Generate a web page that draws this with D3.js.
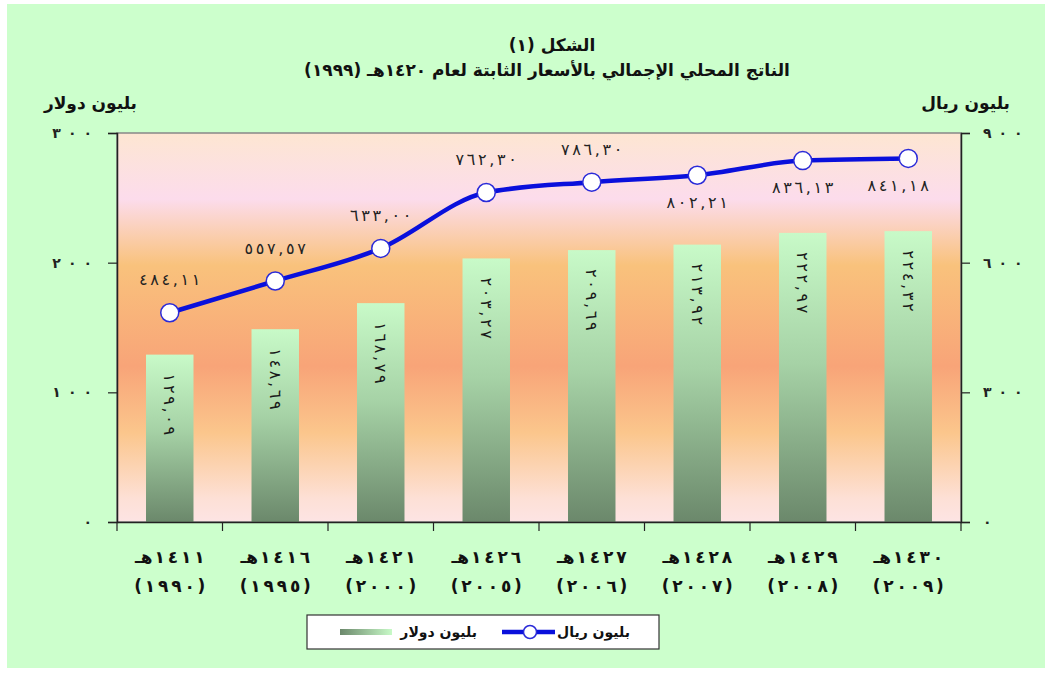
<!DOCTYPE html>
<html>
<head>
<meta charset="utf-8">
<script src="https://cdn.jsdelivr.net/npm/d3@7"></script>
<style>
  body { margin: 0; background: #fff; }
  svg { display: block; font-family: "DejaVu Sans", sans-serif; }
</style>
</head>
<body>
<svg class="chart" width="1052" height="675"></svg>
<script>
// data
const hijri = ["1411", "1416", "1421", "1426", "1427", "1428", "1429", "1430"];
const gregorian = ["1990", "1995", "2000", "2005", "2006", "2007", "2008", "2009"];
const usdBillions = [129.09, 148.69, 168.79, 203.27, 209.69, 213.92, 222.97, 224.32];
const sarBillions = [484.11, 557.57, 633.0, 762.3, 786.3, 802.21, 836.13, 841.18];
const leftTicks = [0, 100, 200, 300];
const rightTicks = [0, 300, 600, 900];
const labelSide = ["up", "up", "up", "up", "up", "down", "down", "down"];

const svg = d3.select(".chart");

// arabic-indic digits, spread out and kept left-to-right
const ar = (s) => String(s).replace(/[0-9]/g, (d) => "٠١٢٣٤٥٦٧٨٩"[+d]);
const spread = (s, sp) => "\u202D" + Array.from(s).join(sp) + "\u202C";
const fmt = (v) => spread(ar(d3.format(".2f")(v).replace(".", ",")), "\u2006");

const plotL = 117, plotR = 961, plotT = 133, plotB = 522;

const defs = svg.append("defs");

// plot background gradient
const bg = defs.append("linearGradient").attr("id", "plotBg")
  .attr("x1", 0).attr("y1", 0).attr("x2", 0).attr("y2", 1);
[[0, "#fde6d2"], [0.17, "#fcdcec"], [0.34, "#f9c27c"], [0.6, "#f8a478"],
 [0.77, "#fbc68c"], [0.94, "#fde0d6"], [1, "#fde4e4"]].forEach(([o, c]) =>
  bg.append("stop").attr("offset", o).attr("stop-color", c));

// bar gradient
const bg2 = defs.append("linearGradient").attr("id", "barFill")
  .attr("x1", 0).attr("y1", 0).attr("x2", 0).attr("y2", 1);
[[0, "#c8fac8"], [0.45, "#a6d2a6"], [1, "#6b886b"]].forEach(([o, c]) =>
  bg2.append("stop").attr("offset", o).attr("stop-color", c));

const bg3 = defs.append("linearGradient").attr("id", "legBar")
  .attr("x1", 0).attr("y1", 0).attr("x2", 1).attr("y2", 0);
[[0, "#6b886b"], [1, "#c8fac8"]].forEach(([o, c]) =>
  bg3.append("stop").attr("offset", o).attr("stop-color", c));

// green page
svg.append("rect").attr("x", 7).attr("y", 4).attr("width", 1038).attr("height", 664)
  .attr("fill", "#ccffcc");

const x = d3.scaleBand().domain(hijri).range([plotL, plotR])
  .paddingInner(0.55).paddingOuter(0.275);
const yL = d3.scaleLinear().domain([0, 300]).range([plotB, plotT]);
const yR = d3.scaleLinear().domain([0, 900]).range([plotB, plotT]);

svg.append("rect").attr("x", plotL).attr("y", plotT)
  .attr("width", plotR - plotL).attr("height", plotB - plotT)
  .attr("fill", "url(#plotBg)").attr("stroke", "#888").attr("stroke-width", 1.5);

// bars
svg.append("g").selectAll("rect").data(usdBillions).join("rect")
  .attr("x", (d, i) => x(hijri[i]))
  .attr("y", (d) => yL(d))
  .attr("width", x.bandwidth())
  .attr("height", (d) => plotB - yL(d))
  .attr("fill", "url(#barFill)");

svg.append("g").selectAll("text").data(usdBillions).join("text")
  .attr("transform", (d, i) =>
    `translate(${x(hijri[i]) + x.bandwidth() / 2},${yL(d) + 19}) rotate(90)`)
  .attr("dy", "0.35em")
  .attr("font-size", 16)
  .attr("fill", "#1a1a1a")
  .text((d) => fmt(d));

// axes
const axL = svg.append("g").attr("transform", `translate(${plotL},0)`)
  .call(d3.axisLeft(yL).tickValues(leftTicks).tickSize(9).tickPadding(16)
    .tickFormat((d) => spread(ar(d), "\u2002")));
const axR = svg.append("g").attr("transform", `translate(${plotR},0)`)
  .call(d3.axisRight(yR).tickValues(rightTicks).tickSize(9).tickPadding(13)
    .tickFormat((d) => spread(ar(d), "\u2002")));
[axL, axR].forEach((g) => {
  g.select(".domain").attr("stroke", "#222").attr("stroke-width", 1.5);
  g.selectAll(".tick line").attr("stroke", "#222").attr("stroke-width", 1.2);
  g.selectAll(".tick text").attr("font-size", 14).attr("font-weight", "bold")
    .attr("fill", "#222").style("font-family", "DejaVu Sans");
});

const axB = svg.append("g").attr("transform", `translate(0,${plotB})`)
  .call(d3.axisBottom(x).tickSize(0).tickFormat(""));
axB.select(".domain").attr("stroke", "#222").attr("stroke-width", 1.5);
const step = x.step();
const edges = hijri.map((d) => x(d) - step * x.paddingOuter()).concat([plotR]);
axB.selectAll(".sep").data(edges).join("line").attr("class", "sep")
  .attr("x1", (d) => d).attr("x2", (d) => d)
  .attr("y1", 0).attr("y2", 9)
  .attr("stroke", "#222").attr("stroke-width", 1.2);

// category labels: "هـ" sits left of the hijri year
const catG = svg.append("g").attr("font-size", 17).attr("font-weight", "bold")
  .attr("fill", "#111");
hijri.forEach((h, i) => {
  const cx = x(h) + x.bandwidth() / 2;
  const ha = catG.append("text").attr("y", 563).text("هـ");
  const yr = catG.append("text").attr("y", 563).text(spread(ar(h), "\u2006"));
  const wHa = ha.node().getComputedTextLength();
  const wYr = yr.node().getComputedTextLength();
  const x0 = cx - (wHa + 2 + wYr) / 2;
  ha.attr("x", x0);
  yr.attr("x", x0 + wHa + 2);
  catG.append("text").attr("x", cx).attr("y", 592).attr("text-anchor", "middle")
    .text(spread("(" + ar(gregorian[i]) + ")", "\u2006"));
});

// riyal line
const pts = sarBillions.map((v, i) => [x(hijri[i]) + x.bandwidth() / 2, yR(v)]);
svg.append("path")
  .attr("d", d3.line().curve(d3.curveMonotoneX)(pts))
  .attr("fill", "none").attr("stroke", "#0a10dc").attr("stroke-width", 4.5);

svg.append("g").selectAll("circle").data(pts).join("circle")
  .attr("cx", (d) => d[0]).attr("cy", (d) => d[1]).attr("r", 9)
  .attr("fill", "#fff").attr("stroke", "#2a2ad8").attr("stroke-width", 1.5);

svg.append("g").selectAll("text").data(sarBillions).join("text")
  .attr("x", (d, i) => pts[i][0] - (i === 7 ? 10 : 0))
  .attr("y", (d, i) => pts[i][1] + (labelSide[i] === "up" ? -33 : 27))
  .attr("dy", "0.35em")
  .attr("text-anchor", "middle")
  .attr("font-size", 16).attr("fill", "#222")
  .text((d) => fmt(d));

// titles
svg.append("text").attr("x", 552).attr("y", 51).attr("text-anchor", "middle")
  .attr("font-size", 17).attr("font-weight", "bold").attr("fill", "#111")
  .attr("direction", "rtl").attr("unicode-bidi", "embed")
  .text("الشكل (١)");
svg.append("text").attr("x", 547).attr("y", 76).attr("text-anchor", "middle")
  .attr("font-size", 17).attr("font-weight", "bold").attr("fill", "#111")
  .attr("direction", "rtl").attr("unicode-bidi", "embed")
  .text("الناتج المحلي الإجمالي بالأسعار الثابتة لعام ١٤٢٠هـ (١٩٩٩)");

svg.append("text").attr("x", 137).attr("y", 109).attr("text-anchor", "end")
  .attr("font-size", 17).attr("font-weight", "bold").attr("fill", "#111")
  .text("بليون دولار");
svg.append("text").attr("x", 1010).attr("y", 109).attr("text-anchor", "end")
  .attr("font-size", 17).attr("font-weight", "bold").attr("fill", "#111")
  .text("بليون ريال");

// legend
const leg = svg.append("g");
leg.append("rect").attr("x", 307).attr("y", 615).attr("width", 352).attr("height", 34)
  .attr("fill", "#fff").attr("stroke", "#333").attr("stroke-width", 1.2);
leg.append("line").attr("x1", 502).attr("x2", 555).attr("y1", 632).attr("y2", 632)
  .attr("stroke", "#0a10dc").attr("stroke-width", 4.5);
leg.append("circle").attr("cx", 530).attr("cy", 632).attr("r", 6.5)
  .attr("fill", "#fff").attr("stroke", "#2a2ad8").attr("stroke-width", 1.5);
leg.append("text").attr("x", 630).attr("y", 637).attr("text-anchor", "end")
  .attr("font-size", 14).attr("font-weight", "bold").attr("fill", "#111")
  .text("بليون ريال");
leg.append("rect").attr("x", 340).attr("y", 629).attr("width", 52).attr("height", 6)
  .attr("fill", "url(#legBar)");
leg.append("text").attr("x", 477).attr("y", 637).attr("text-anchor", "end")
  .attr("font-size", 14).attr("font-weight", "bold").attr("fill", "#111")
  .text("بليون دولار");
</script>
</body>
</html>
